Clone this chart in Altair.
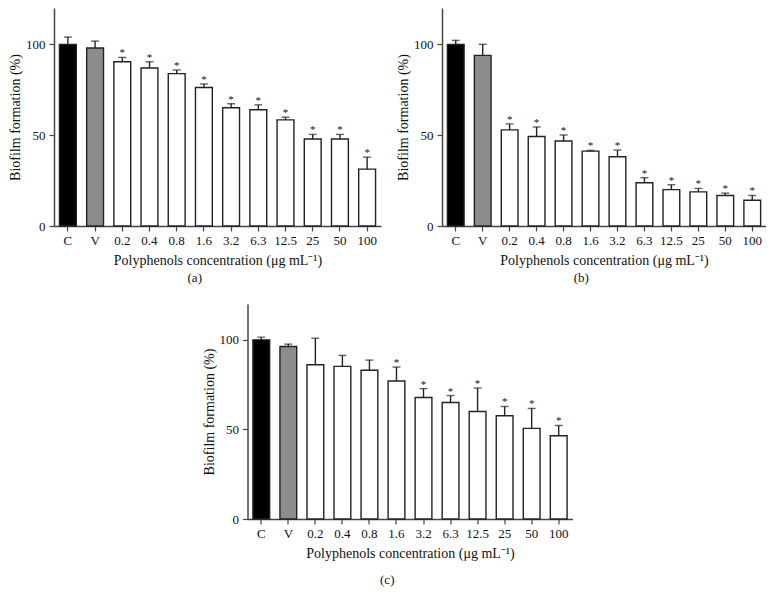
import altair as alt
import pandas as pd

categories = ["C", "V", "0.2", "0.4", "0.8", "1.6", "3.2", "6.3", "12.5", "25", "50", "100"]
groups = ["C", "V"] + ["T"] * 10

a_mean = [100, 98.0, 90.4, 87.0, 83.9, 76.2, 65.1, 64.0, 58.4, 47.9, 47.9, 31.3]
a_sd = [4.0, 3.8, 2.4, 3.4, 2.0, 2.0, 2.2, 2.7, 1.5, 2.5, 2.5, 6.6]
a_sig = [False, False] + [True] * 10

b_mean = [100, 93.9, 52.9, 49.3, 46.8, 41.2, 38.1, 23.8, 20.0, 18.8, 16.8, 14.2]
b_sd = [2.2, 6.1, 3.3, 5.2, 3.3, 0.4, 3.7, 2.8, 2.7, 1.9, 1.3, 2.6]
b_sig = [False, False] + [True] * 10

c_mean = [100, 96.3, 86.1, 85.2, 83.0, 77.0, 67.8, 65.0, 60.0, 57.6, 50.6, 46.5]
c_sd = [1.5, 1.3, 14.8, 6.1, 5.7, 7.8, 5.0, 3.9, 13.1, 5.2, 11.1, 5.7]
c_sig = [False, False, False, False, False] + [True] * 7

y_ticks = [0, 50, 100]
x_title = "Polyphenols concentration (μg mL⁻¹)"
y_title = "Biofilm formation (%)"
FONT = "Liberation Serif"
INK = "#111111"


def panel(mean, sd, sig, label, w, h, title_offset):
    df = pd.DataFrame({
        "cat": categories,
        "grp": groups,
        "mean": mean,
        "top": [m + s for m, s in zip(mean, sd)],
        "star": ["*" if s else "" for s in sig],
    })
    x = alt.X("cat:N", sort=categories, title=x_title,
              scale=alt.Scale(paddingInner=0.38, paddingOuter=0.2),
              axis=alt.Axis(labelAngle=0, tickSize=5, labelPadding=3, titlePadding=6))
    yscale = alt.Scale(domain=[0, 120], nice=False)
    yaxis = alt.Axis(values=y_ticks, tickSize=5, labelPadding=4, titlePadding=3)
    base = alt.Chart(df)
    bars = base.mark_bar(stroke="#222222", strokeWidth=1.4).encode(
        x=x,
        y=alt.Y("mean:Q", scale=yscale, axis=yaxis, title=y_title),
        fill=alt.Fill("grp:N", scale=alt.Scale(domain=["C", "V", "T"],
                                               range=["#000000", "#8c8c8c", "#ffffff"]),
                      legend=None),
    )
    stem = base.mark_rule(color="#222222", strokeWidth=1.4).encode(
        x=alt.X("cat:N", sort=categories), y="mean:Q", y2="top:Q")
    cap = base.mark_tick(color="#222222", thickness=1.4, size=8).encode(
        x=alt.X("cat:N", sort=categories), y="top:Q")
    star = base.mark_text(font=FONT, fontSize=11, baseline="alphabetic", dy=-1,
                          color=INK).encode(
        x=alt.X("cat:N", sort=categories), y="top:Q", text="star:N")
    return alt.layer(bars, stem, cap, star).properties(
        width=w, height=h,
        title=alt.TitleParams(label, orient="bottom", anchor="middle", frame="bounds",
                              font=FONT, fontSize=13, fontWeight="normal",
                              offset=title_offset, color=INK),
    )


pa = panel(a_mean, a_sd, a_sig, "(a)", 327, 218, 5)
pb = panel(b_mean, b_sd, b_sig, "(b)", 324, 218, 5)
pc = panel(c_mean, c_sd, c_sig, "(c)", 325, 215, 14)

chart = alt.vconcat(
    alt.hconcat(pa, pb, spacing=15),
    pc,
    spacing=19,
    center=True,
    padding={"left": 0, "top": 0, "right": 0, "bottom": 0},
).configure_view(stroke=None).configure_axis(
    labelFont=FONT, titleFont=FONT, labelFontSize=13, titleFontSize=14,
    titleFontWeight="normal", labelColor=INK, titleColor=INK,
    domainColor="#444444", tickColor="#444444", domainWidth=1.5, tickWidth=1.2,
    grid=False,
)

chart.save("out.html", embed_options={"renderer": "svg", "actions": False})
